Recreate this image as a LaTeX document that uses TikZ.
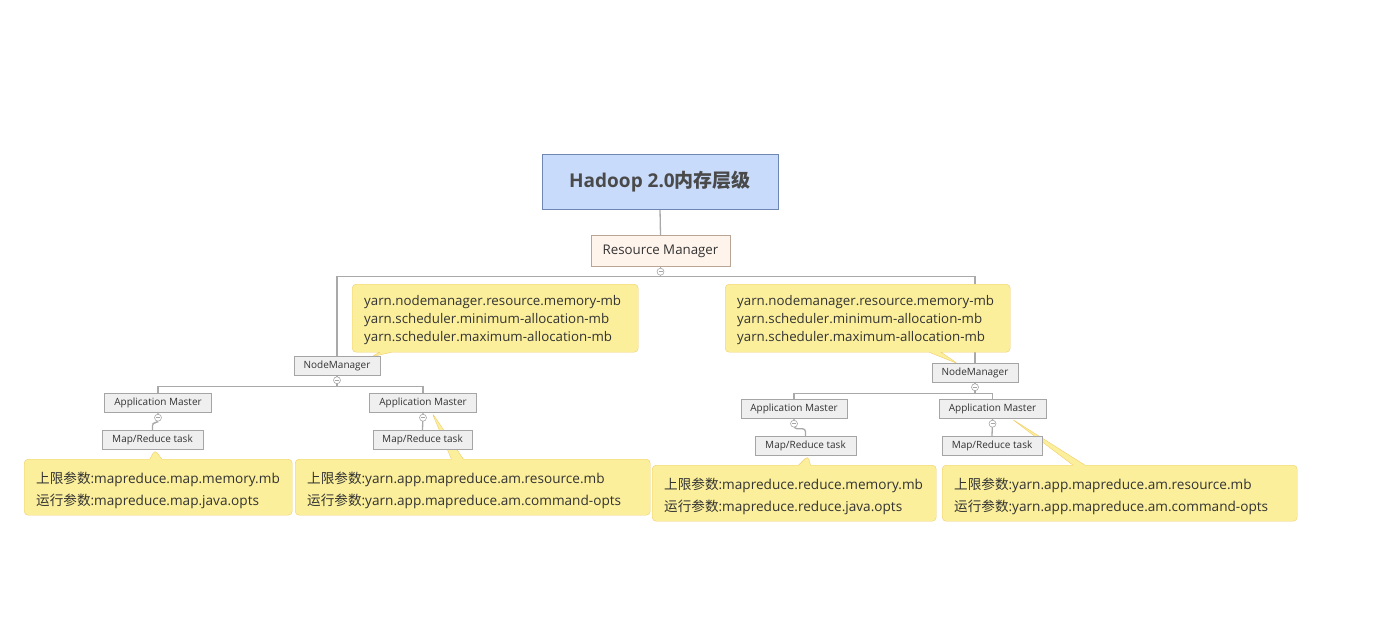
\documentclass[tikz,border=0pt]{standalone}
\usepackage{fontspec}
\setmainfont{Open Sans}
\newfontfamily\cjk{Noto Sans CJK SC}
\usetikzlibrary{shapes.callouts,calc}
\pgfdeclarelayer{bg}
\pgfdeclarelayer{mid}
\pgfsetlayers{bg,mid,main}
\definecolor{rootfill}{HTML}{C9DBFB}
\definecolor{rootline}{HTML}{6E86B2}
\definecolor{rmfill}{HTML}{FEF4EB}
\definecolor{rmline}{HTML}{B9A596}
\definecolor{boxfill}{HTML}{EFEFEF}
\definecolor{boxline}{HTML}{A5A5A5}
\definecolor{notefill}{HTML}{FBEF9B}
\definecolor{noteline}{HTML}{F1CD6B}
\definecolor{connc}{HTML}{A9A9A9}
\definecolor{txt}{HTML}{333333}
\definecolor{titletxt}{HTML}{4A4A4A}
\newcommand\mytopstrut{\rule{0pt}{17pt}}
\newcommand\myupstrut{\rule{0pt}{13pt}}
\tikzset{
  rootbox/.style={draw=rootline, fill=rootfill, minimum width=236pt, minimum height=55pt, inner sep=0pt,
    font=\fontsize{19}{21}\selectfont\bfseries, text=titletxt},
  rmbox/.style={draw=rmline, fill=rmfill, minimum width=139pt, minimum height=31pt, inner sep=0pt,
    font=\fontsize{13.3}{15}\selectfont, text=txt},
  smallbox/.style={draw=boxline, fill=boxfill, minimum height=19pt, inner sep=0pt,
    font=\fontsize{10}{12}\selectfont, text=txt},
  note/.style n args={3}{rectangle callout, draw=noteline, fill=notefill, rounded corners=4pt,
    callout pointer width=12pt, anchor=north west, align=left, inner xsep=12pt, inner ysep=0pt,
    minimum width=#1, text width=#2, minimum height=#3, text=txt},
  topfont/.style={font=\fontsize{13.3}{18}\selectfont},
  botfont/.style={font=\fontsize{13.6}{22}\selectfont},
  conn/.style={draw=connc, line width=1.3pt},
  collapse/.style={circle, draw=boxline, fill=white, inner sep=0pt, minimum size=7pt, line width=0.6pt,
    path picture={\draw[boxline, line width=0.6pt] ([xshift=-2pt]path picture bounding box.center) -- ([xshift=2pt]path picture bounding box.center);}}
}
\begin{document}
\exhyphenpenalty=10000
\hyphenpenalty=10000
\begin{tikzpicture}[x=1pt, y=-1pt]
\useasboundingbox (0,0) rectangle (1375,619);
% main boxes
\node[rootbox] (root) at (660,181.5) {Hadoop 2.0{\cjk 内存层级}};
\node[rmbox] (rm) at (660.5,251) {Resource Manager};
\node[smallbox, minimum width=86pt] (nm1) at (337,365.5) {NodeManager};
\node[smallbox, minimum width=86pt] (nm2) at (975,372.5) {NodeManager};
\node[smallbox, minimum width=107pt] (am1) at (158,403) {Application Master};
\node[smallbox, minimum width=107pt] (am2) at (423,403) {Application Master};
\node[smallbox, minimum width=106pt] (am3) at (794,409) {Application Master};
\node[smallbox, minimum width=107pt] (am4) at (992.5,409) {Application Master};
\node[smallbox, minimum width=101pt] (t1) at (152.5,440) {Map/Reduce task};
\node[smallbox, minimum width=99pt] (t2) at (422.5,440) {Map/Reduce task};
\node[smallbox, minimum width=101pt] (t3) at (805.5,446) {Map/Reduce task};
\node[smallbox, minimum width=100pt] (t4) at (992,446) {Map/Reduce task};
% collapse markers
\node[collapse] (crm) at ($(rm.south)+(0,5)$) {};
\node[collapse] (cnm1) at ($(nm1.south)+(0,5)$) {};
\node[collapse] (cnm2) at ($(nm2.south)+(0,5)$) {};
\node[collapse] (cam1) at ($(am1.south)+(0,5)$) {};
\node[collapse] (cam2) at ($(am2.south)+(0,5)$) {};
\node[collapse] (cam3) at ($(am3.south)+(0,5)$) {};
\node[collapse] (cam4) at ($(am4.south)+(0,5)$) {};
% notes
\begin{pgfonlayer}{mid}
\node[note={286pt}{262pt}{68pt}, topfont, callout absolute pointer={($(nm1.north)+(34,1)$)}] (n1) at (352,284)
  {\myupstrut yarn.nodemanager.resource.memory-mb\\yarn.scheduler.minimum-allocation-mb\\yarn.scheduler.maximum-allocation-mb};
\node[note={285pt}{261pt}{68pt}, topfont, callout absolute pointer={($(nm2.north)+(-17,1)$)}] (n2) at (725,284)
  {\myupstrut yarn.nodemanager.resource.memory-mb\\yarn.scheduler.minimum-allocation-mb\\yarn.scheduler.maximum-allocation-mb};
\node[note={268pt}{244pt}{56pt}, botfont, callout absolute pointer={($(t1.south)+(2.5,0)$)}] (n3) at (24,459)
  {\mytopstrut{\cjk 上限参数}:mapreduce.map.memory.mb\\{\cjk 运行参数}:mapreduce.map.java.opts};
\node[note={355pt}{331pt}{56pt}, botfont, callout absolute pointer={($(am2.south)+(9,0)$)}] (n4) at (295,459)
  {\mytopstrut{\cjk 上限参数}:yarn.app.mapreduce.am.resource.mb\\{\cjk 运行参数}:yarn.app.mapreduce.am.command-opts};
\node[note={284pt}{260pt}{56pt}, botfont, callout absolute pointer={($(t3.south)+(2.5,0)$)}] (n5) at (652,465)
  {\mytopstrut{\cjk 上限参数}:mapreduce.reduce.memory.mb\\{\cjk 运行参数}:mapreduce.reduce.java.opts};
\node[note={355pt}{331pt}{56pt}, botfont, callout absolute pointer={($(am4.south)+(19,0)$)}] (n6) at (942,465)
  {\mytopstrut{\cjk 上限参数}:yarn.app.mapreduce.am.resource.mb\\{\cjk 运行参数}:yarn.app.mapreduce.am.command-opts};
\end{pgfonlayer}
% connectors
\begin{pgfonlayer}{bg}
\draw[conn] (root.south) -- (rm.north);
\draw[conn] (rm.south) -- ++(0,10) -| (nm1.north);
\draw[conn] (rm.south) -- ++(0,10) -| (nm2.north);
\draw[conn] (nm1.south) -- ++(0,11) -| (am1.north);
\draw[conn] (nm1.south) -- ++(0,11) -| (am2.north);
\draw[conn] (nm2.south) -- ++(0,11) -| (am3.north);
\draw[conn] (nm2.south) -- ++(0,11) -| (am4.north);
\draw[conn, rounded corners=3pt] (am1.south) -- ++(0,10) -| (t1.north);
\draw[conn] (am2.south) -- (t2.north);
\draw[conn, rounded corners=3pt] (am3.south) -- ++(0,10) -| (t3.north);
\draw[conn] (am4.south) -- (t4.north);
\end{pgfonlayer}
\end{tikzpicture}
\end{document}
